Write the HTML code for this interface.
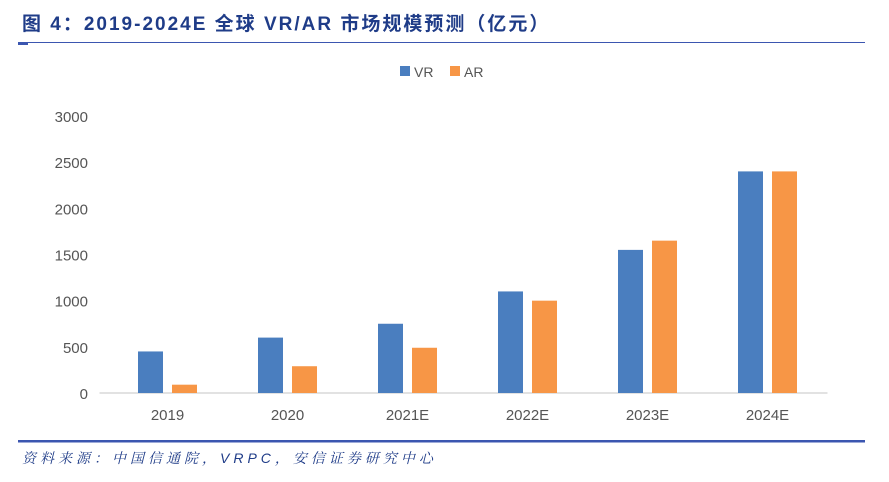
<!DOCTYPE html>
<html><head><meta charset="utf-8"><style>
body{margin:0;background:#fff;width:889px;height:477px;overflow:hidden;font-family:"Liberation Sans","Noto Sans CJK SC",sans-serif}
</style></head><body>
<svg id="c" width="889" height="477">
<text x="22" y="30" font-size="19" font-weight="bold" fill="#1f3c88" letter-spacing="2" font-family="Liberation Sans, Noto Sans CJK SC, sans-serif">图 4：2019-2024E 全球 VR/AR 市场规模预测（亿元）</text>
<rect x="18" y="42" width="847" height="1" fill="#3b56b0"/>
<rect x="18" y="42" width="10" height="3" fill="#3b56b0"/>
<rect x="18" y="440" width="847" height="2.5" fill="#3b56b0"/>
<text x="22" y="463" font-size="14" font-style="italic" fill="#1f3c88" letter-spacing="4" font-family="Liberation Sans, Noto Serif CJK SC, sans-serif">资料来源：中国信通院，VRPC，安信证券研究中心</text>
<g>
<rect x="400" y="66" width="10" height="10" fill="#4a7ebf"/>
<text x="414" y="77" font-size="14" fill="#555">VR</text>
<rect x="450" y="66" width="10" height="10" fill="#f79646"/>
<text x="464" y="77" font-size="14" fill="#555">AR</text>
</g>
<g id="plot"></g>
</svg>
<script>
const categories=["2019","2020","2021E","2022E","2023E","2024E"];
const vrValues=[450,600,750,1100,1550,2400];
const arValues=[90,290,490,1000,1650,2400];
const yTicks=[0,500,1000,1500,2000,2500,3000];
const NS="http://www.w3.org/2000/svg";
const g=document.getElementById('plot');
const x0=107.5,x1=827.5,y0=393,yTop=116,yMax=3000;
const bw=(x1-x0)/categories.length;
const y=v=>y0-(v/yMax)*(y0-yTop);
const xc=i=>x0+bw*(i+0.5);
function el(t,a){const e=document.createElementNS(NS,t);for(const k in a)e.setAttribute(k,a[k]);g.appendChild(e);return e;}
yTicks.forEach(t=>{
 const e=el('text',{x:88,y:y(t)+6,'font-size':15,fill:'#555','text-anchor':'end'});
 e.textContent=t;
 
 
});
const ax=el('line',{x1:x0-8,x2:x1,y1:y0,y2:y0,stroke:'#d9d9d9','stroke-width':1.5});


categories.forEach((c,i)=>{
 const r1=el('rect',{x:xc(i)-29.5,y:y(vrValues[i]),width:25,height:y0-y(vrValues[i]),fill:'#4a7ebf'});
 
 
 const r2=el('rect',{x:xc(i)+4.5,y:y(arValues[i]),width:25,height:y0-y(arValues[i]),fill:'#f79646'});
 
 
 const t=el('text',{x:xc(i),y:420,'font-size':15,fill:'#555','text-anchor':'middle'});
 t.textContent=c;
 
 
});
</script>
</body></html>
